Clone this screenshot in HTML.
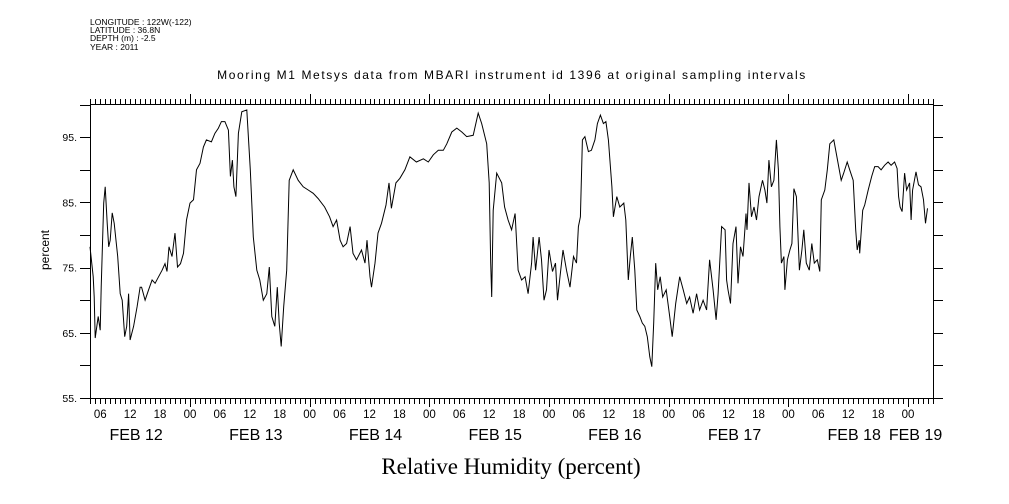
<!DOCTYPE html>
<html><head><meta charset="utf-8"><style>
html,body{margin:0;padding:0;background:#fff;}
svg{display:block;font-family:"Liberation Sans",sans-serif;}
</style></head><body>
<svg width="1009" height="504" viewBox="0 0 1009 504" id="chart">
<g font-size="8.5" fill="#000">
<text x="90" y="25">LONGITUDE : 122W(-122)</text>
<text x="90" y="33">LATITUDE : 36.8N</text>
<text x="90" y="41">DEPTH (m) : -2.5</text>
<text x="90" y="50">YEAR : 2011</text>
</g>
<text x="512" y="79" text-anchor="middle" font-size="12" letter-spacing="1.6">Mooring M1 Metsys data from MBARI instrument id 1396 at original sampling intervals</text>
<text x="511" y="474" text-anchor="middle" font-family="Liberation Serif,serif" font-size="23">Relative Humidity (percent)</text>
<text x="49" y="250" text-anchor="middle" font-size="12" transform="rotate(-90 49 250)">percent</text>
<g id="axes"></g>
<g id="series"></g>
</svg>
<script>
const hours = [3.95,4.6,4.8,5,5.6,6,6.2,6.7,7,7.4,7.7,8,8.4,8.8,9.5,10,10.4,10.9,11.3,11.7,12,12.7,13.4,14,14.3,15,15.7,16.4,17,17.7,18.4,19,19.4,19.8,20.4,21,21.5,22.1,22.7,23.3,24,24.7,25.3,26,26.7,27.3,28.3,29,29.7,30.3,31,31.7,32.1,32.5,32.8,33.2,33.7,34.4,35.4,36.1,36.7,37.4,38,38.7,39.4,39.9,40.4,41,41.5,41.9,42.3,42.8,43.4,43.9,44.7,45.7,46.7,47.7,48.7,49.7,51,52,52.7,53.4,54.1,54.7,55.4,56.1,56.7,57.4,58.4,59.1,59.5,60.1,60.4,61.1,61.7,62.4,63.3,63.9,64.4,65.3,66.1,67.1,68.1,69.4,70.8,71.8,72.8,73.8,74.8,75.5,76.5,77.5,78.5,79.5,80.8,81.8,82.5,83.5,84,84.3,84.5,84.8,85.5,86.5,87.1,87.8,88.5,89.2,89.8,90.5,91.2,91.8,92.5,92.8,93.3,94,94.5,95,95.5,96,96.7,97.3,97.7,98.2,98.8,99.5,100.2,100.9,101.5,101.9,102.3,102.7,103.2,103.9,104.5,105.2,105.7,106.3,106.9,107.4,107.9,108.6,108.9,109.6,110.2,111,111.4,111.9,112.3,112.7,113.2,113.6,114.2,114.7,115.2,115.7,116.2,116.6,117,117.4,117.8,118.3,118.8,119.5,120.2,120.7,121.4,122.2,122.9,123.6,124.2,124.9,125.6,126.2,126.9,127.6,128.2,128.9,129.5,129.9,130.6,131.3,131.6,131.9,132.4,132.9,133.5,133.9,134.4,134.9,135.5,135.7,136.1,136.6,137.1,137.6,138.1,138.8,139.3,139.7,140.1,140.6,141.1,141.6,142,142.3,142.6,143.1,143.3,143.8,144.3,144.7,145.1,145.6,146.2,146.7,147.1,147.6,148.2,148.7,149.2,149.8,150.3,150.6,151.3,151.8,152.3,153.1,153.6,154.6,155.1,155.8,156.3,157,157.5,157.8,158.2,158.3,158.9,159.3,160,160.7,161.3,162,162.6,163.3,164,164.6,165.3,165.8,166.1,166.4,166.8,167.3,167.7,168.3,168.6,168.9,169.6,170.1,170.6,171.1,171.5,171.9];
const humidity = [78.2,73.6,70.5,64.2,67.5,65.4,72,84.9,87.4,81.8,78.2,79.2,83.4,81.8,76.7,71,70,64.4,66,71,63.9,66,69,72,72,70,71.6,73.1,72.6,73.6,74.6,75.6,74.4,78.2,76.7,80.3,75.1,75.6,77.2,82.3,84.9,85.4,90,91,93.5,94.6,94.3,95.6,96.4,97.4,97.4,96.1,89,91.5,87.4,85.9,95.6,98.9,99.2,90,79.7,74.6,73.1,70,71,75.1,67.5,66,72,66.5,62.9,69,74.6,88.4,90,88.4,87.4,86.9,86.4,85.6,84.3,82.8,81.3,82.3,79.2,78.2,78.7,81.3,77.2,76.2,77.7,75.7,79.2,73.6,72,75.7,80.3,81.8,84.6,88,84.1,88,88.7,90,92,91.2,91.7,91.2,92.3,93,93,94,95.8,96.4,95.8,95.1,95.3,98.7,97.1,94,88,75.7,70.5,83.8,89.5,88,84.3,82.3,80.8,83.3,74.6,73.1,73.6,71,75.7,79.7,74.6,79.7,76.2,70,71.6,77.7,74.4,75.7,70,73.6,77.7,74.6,72,76.7,75.7,81.3,82.8,94.6,95.1,92.8,93,94.6,97.1,98.4,97.1,97.4,94.6,87.4,82.8,85.9,84.3,84.9,82.3,73.1,76.7,79.7,74.6,68.5,67.5,66.5,66,64.4,61.3,59.8,66.5,75.7,71.6,73.6,70.5,71.6,67.5,64.4,69.5,73.6,71.6,69.5,70.5,68,71,68.5,70,68.5,76.2,71.6,67,71,81.3,80.8,73.1,71.6,69.5,78.7,81.3,72.6,78.2,76.7,83.3,80.8,88,82.8,84.3,82.3,85.9,88.4,86.9,84.9,91.5,87.4,88.4,94.6,90,81.3,75.7,76.7,71.6,76.2,77.7,78.7,87.1,85.9,74.6,77.7,80.8,75.7,74.6,78.7,75.7,76.2,74.4,85.4,86.9,90,94,94.6,92.5,88.4,89.5,91.2,90,88.4,80.8,77.7,79.2,77.2,83.8,84.6,86.9,89,90.5,90.5,90,90.7,91.2,90.7,91.2,90.2,85.9,84.3,83.6,89.5,86.9,88,82.3,86.9,89.7,87.7,87.4,85.4,81.8,84.1];
const yTickLabels = ["55.","65.","75.","85.","95."];
const yTickValues = [55,65,75,85,95];
const hourLabels = ["06","12","18","00"];
const dayLabels = ["FEB 12","FEB 13","FEB 14","FEB 15","FEB 16","FEB 17","FEB 18","FEB 19"];

const X0=90,X1=933,Y0=104,Y1=398, HMIN=3.95, HMAX=173, VMIN=55, VMAX=100.1;
function xs(h){return X0+(h-HMIN)*(X1-X0)/(HMAX-HMIN);}
function ys(v){return Y1-(v-VMIN)*(Y1-Y0)/(VMAX-VMIN);}
const NS="http://www.w3.org/2000/svg";
const axes=document.getElementById('axes');
function line(x1,y1,x2,y2,name){
  const l=document.createElementNS(NS,'line');
  l.setAttribute('x1',x1);l.setAttribute('y1',y1);l.setAttribute('x2',x2);l.setAttribute('y2',y2);
  l.setAttribute('stroke','#000');l.setAttribute('stroke-width','1');
  
  
  axes.appendChild(l);return l;
}
function text(x,y,s,anchor,size,name){
  const t=document.createElementNS(NS,'text');
  t.setAttribute('x',x);t.setAttribute('y',y);t.setAttribute('text-anchor',anchor);t.setAttribute('font-size',size);
  t.textContent=s;
  
  
  axes.appendChild(t);return t;
}
const r=document.createElementNS(NS,'rect');
r.setAttribute('x',X0+0.5);r.setAttribute('y',Y0+0.5);r.setAttribute('width',X1-X0);r.setAttribute('height',Y1-Y0);
r.setAttribute('fill','none');r.setAttribute('stroke','#000');


axes.appendChild(r);
for(let v=55;v<=100;v+=5){
  const y=Math.round(ys(v))+0.5;
  line(X0-10,y,X0,y,'y-tick-left');
  line(X1,y,X1+10,y,'y-tick-right');
}
yTickValues.forEach((v,i)=>{text(77,ys(v)+4,yTickLabels[i],'end',10.5,'y-tick-label');});
for(let h=Math.ceil(HMIN);h<=HMAX;h++){
  const x=Math.round(xs(h))+0.5;
  const major=(h%24===0);
  line(x,Y1,x,Y1+(major?9:6),'x-tick-bottom');
  line(x,Y0-(major?10:5),x,Y0,'x-tick-top');
  if(h%6===0){
    text(xs(h),418,hourLabels[(h/6-1)%4],'middle',11.5,'x-hour-label');
  }
}
const dayCenters=[12,36,60,84,108,132,156,169.5];
dayLabels.forEach((s,i)=>{text(xs(dayCenters[i])+ (i===7?0:6),440,s,'middle',16,'x-day-label');});
const series=document.getElementById('series');
const p=document.createElementNS(NS,'path');
p.setAttribute('d',hours.map((h,i)=>(i?'L':'M')+xs(h).toFixed(1)+','+ys(humidity[i]).toFixed(1)).join(''));
p.setAttribute('fill','none');p.setAttribute('stroke','#000');p.setAttribute('stroke-width','1');


series.appendChild(p);
</script>
</body></html>
